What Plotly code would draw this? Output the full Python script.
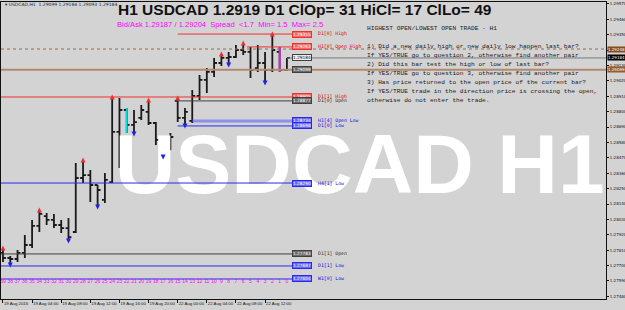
import plotly.graph_objects as go

# ---------------- data ----------------
bar_open = [1.27790, 1.27754, 1.27747, 1.27790, 1.27847, 1.27983, 1.28054, 1.28026, 1.27990, 1.27968,
            1.27940, 1.28326, 1.28347, 1.28276, 1.28169, 1.28297, 1.28655, 1.28812, 1.28705, 1.28755,
            1.28798, 1.28719, 1.28598, 1.28526, 1.28877, 1.28755, 1.28734, 1.28912, 1.29027, 1.29084,
            1.29148, 1.29184, 1.29191, 1.29241, 1.29227, 1.29112, 1.29148, 1.29098, 1.29227, 1.29099]
bar_high = [1.27825, 1.27768, 1.27811, 1.27918, 1.28026, 1.28097, 1.28076, 1.28069, 1.28026, 1.28040,
            1.28433, 1.28455, 1.28383, 1.28276, 1.28362, 1.28905, 1.28898, 1.28826, 1.28812, 1.28848,
            1.28884, 1.28726, 1.28598, 1.28648, 1.28898, 1.28826, 1.28955, 1.29062, 1.29112, 1.29184,
            1.29213, 1.29227, 1.29277, 1.29291, 1.29263, 1.29277, 1.29227, 1.29355, 1.29263, 1.29184]
bar_low = [1.27725, 1.27704, 1.27725, 1.27754, 1.27825, 1.27940, 1.27990, 1.27968, 1.27933, 1.27876,
           1.27933, 1.28290, 1.28154, 1.28119, 1.28147, 1.28290, 1.28397, 1.28648, 1.28641, 1.28741,
           1.28705, 1.28562, 1.28476, 1.28526, 1.28726, 1.28698, 1.28719, 1.28884, 1.28934, 1.29048,
           1.29127, 1.29134, 1.29184, 1.29205, 1.29041, 1.29084, 1.29005, 1.29084, 1.29084, 1.29093]
bar_close = [1.27754, 1.27747, 1.27790, 1.27847, 1.27983, 1.28069, 1.28026, 1.27990, 1.27968, 1.27904,
             1.28326, 1.28347, 1.28276, 1.28240, 1.28312, 1.28655, 1.28812, 1.28705, 1.28726, 1.28812,
             1.28719, 1.28598, 1.28526, 1.28619, 1.28755, 1.28798, 1.28912, 1.29027, 1.29084, 1.29148,
             1.29184, 1.29191, 1.29241, 1.29227, 1.29098, 1.29148, 1.29098, 1.29241, 1.29098, 1.29184]

time_labels = ["19 Aug 2016", "19 Aug 04:00", "19 Aug 08:00", "19 Aug 12:00", "19 Aug 16:00",
               "19 Aug 20:00", "22 Aug 00:00", "22 Aug 04:00", "22 Aug 08:00", "22 Aug 12:00"]
time_label_bars = [0, 4, 8, 12, 16, 20, 24, 28, 32, 36]

fractal_high_bars = [0, 5, 11, 15, 20, 24, 30, 33, 37]
fractal_low_bars = [1, 9, 13, 18, 22, 25, 31, 36]
cyan_bar = 17
pink_bar = 38

level_names = ["D1[0] High", "H1[0] Open High", "D1[1] High", "D1[0] Open", "H1[4] Open Low",
               "D1[0] Low", "H4[1] Low", "D1[1] Open", "D1[1] Low", "W1[0] Low"]
level_values = [1.29355, 1.29263, 1.28905, 1.28877, 1.28734, 1.28698, 1.28290, 1.27783, 1.27697, 1.27604]
level_start_bar = [24, 33.5, -0.3, 24, 26, 24, -0.3, -0.3, -0.3, -0.3]
level_kind = ["high", "high", "high", "open", "low", "low", "low", "open", "low", "low"]

ask_line = 1.29248
bid, ask = 1.29187, 1.29204
spread_now, spread_min, spread_max = 1.7, 1.5, 2.5
price_d1 = 1.2919
cl_op, hi_cl, cl_lo = 31, 17, 49

ytick_vals = [1.27480 + 0.0011 * i for i in range(20)]

questions = [
    "HIGHEST OPEN/LOWEST OPEN TRADE - H1",
    "",
    "1) Did a new daily high or new daily low happen last bar?",
    "If YES/TRUE go to question 2, otherwise find another pair",
    "2) Did this bar test the high or low of last bar?",
    "If YES/TRUE go to question 3, otherwise find another pair",
    "3) Has price returned to the open price of the current bar?",
    "If YES/TRUE trade in the direction price is crossing the open,",
    "otherwise do not enter the trade.",
]

# ---------------- geometry helpers ----------------
W, H = 625, 310
ML, MR, MT, MB = 1, 19, 2, 11
X_MIN, X_MAX = -0.27, 82.83
Y_MIN, Y_MAX = 1.27461, 1.29584
px_per_price = (H - MT - MB) / (Y_MAX - Y_MIN)


def py(ypx):
    return (H - MB - ypx) / (H - MT - MB)


def px(xpx):
    return (xpx - ML) / (W - ML - MR)


n = len(bar_open)
idx = list(range(n))
BG = "#D3D3D3"
kind_style = {
    "high": dict(line="#F03030", box="#F06A6A", boxtxt="white", txt="#E00000"),
    "open": dict(line="#404040", box="#6A6A6A", boxtxt="white", txt="#303030"),
    "low": dict(line="#2828F0", box="#6A6AF0", boxtxt="white", txt="#1010E0"),
}

fig = go.Figure()

# watermark (drawn first so everything else is on top of it)
fig.add_trace(go.Scatter(
    x=[49.0], y=[1.28369], mode="text", text=["<b>USDCAD H1</b>"],
    textfont=dict(family="Liberation Sans, Arial", size=84, color="white"),
    textposition="middle center", hoverinfo="skip", showlegend=False))

# full-width price lines
fig.add_trace(go.Scatter(x=[X_MIN, X_MAX], y=[bar_open[-1]] * 2, mode="lines",
                         line=dict(color="#B08A6A", width=2), hoverinfo="skip", showlegend=False))
fig.add_trace(go.Scatter(x=[X_MIN, X_MAX], y=[ask_line] * 2, mode="lines",
                         line=dict(color="#9A6A4A", width=1, dash="dot"), hoverinfo="skip", showlegend=False))
fig.add_trace(go.Scatter(x=[n - 1, X_MAX], y=[bar_close[-1]] * 2, mode="lines",
                         line=dict(color="#7A7A7A", width=1), hoverinfo="skip", showlegend=False))

# level lines
BOX_X = 41.1
for name, v, s, k in zip(level_names, level_values, level_start_bar, level_kind):
    st = kind_style[k]
    wdt = 3 if name == "H1[4] Open Low" else 1
    col = "rgba(90,90,255,0.55)" if name == "H1[4] Open Low" else st["line"]
    fig.add_trace(go.Scatter(x=[max(s, X_MIN), 39.7], y=[v, v], mode="lines",
                             line=dict(color=col, width=wdt), hoverinfo="skip", showlegend=False))

# bars
fig.add_trace(go.Ohlc(x=idx, open=bar_open, high=bar_high, low=bar_low, close=bar_close,
                      increasing=dict(line=dict(color="#1A1A1A", width=1.8)),
                      decreasing=dict(line=dict(color="#1A1A1A", width=1.8)),
                      tickwidth=0.4, showlegend=False, hoverinfo="skip"))
for b, c in [(cyan_bar, "#00E0E0"), (pink_bar, "#FF00FF")]:
    fig.add_trace(go.Ohlc(x=[b], open=[bar_open[b]], high=[bar_high[b]], low=[bar_low[b]], close=[bar_close[b]],
                          increasing=dict(line=dict(color=c, width=1.6)),
                          decreasing=dict(line=dict(color=c, width=1.6)),
                          tickwidth=0.0, showlegend=False, hoverinfo="skip"))

# fractal arrows
off = 2.5 / px_per_price
fig.add_trace(go.Scatter(x=fractal_high_bars, y=[bar_high[k] + off for k in fractal_high_bars],
                         mode="markers", marker=dict(symbol="arrow-up", size=5, color="#F03030"),
                         hoverinfo="skip", showlegend=False))
fig.add_trace(go.Scatter(x=fractal_low_bars, y=[bar_low[k] - off for k in fractal_low_bars],
                         mode="markers", marker=dict(symbol="arrow-down", size=5, color="#2020F0"),
                         hoverinfo="skip", showlegend=False))

# bar count numbers
w1_low = level_values[level_names.index("W1[0] Low")]
fig.add_trace(go.Scatter(x=idx, y=[w1_low - 3.0 / px_per_price] * n, mode="text",
                         text=[str(n - 1 - i) for i in idx],
                         textfont=dict(family="Liberation Sans, Arial", size=5, color="#FF00FF"),
                         hoverinfo="skip", showlegend=False))

ann = []
# level boxes + names
for name, v, k in zip(level_names, level_values, level_kind):
    st = kind_style[k]
    ann.append(dict(x=BOX_X, y=v, xref="x", yref="y", text=f"{v:.5f}", showarrow=False,
                    bgcolor=st["box"], bordercolor=st["line"], borderwidth=1, borderpad=0,
                    font=dict(family="DejaVu Sans", size=4.3, color=st["boxtxt"])))
    ann.append(dict(x=43.0, y=v, xref="x", yref="y", text=name, showarrow=False, xanchor="left",
                    font=dict(family="DejaVu Sans Mono", size=4.8, color=st["txt"])))
# current price boxes near bar
ann.append(dict(x=BOX_X, y=bar_close[-1], xref="x", yref="y", text=f"{bar_close[-1]:.5f}", showarrow=False,
                bgcolor="#EEEEEE", bordercolor="#404040", borderwidth=1, borderpad=0,
                font=dict(family="DejaVu Sans", size=4.3, color="#111111")))
ann.append(dict(x=BOX_X, y=bar_open[-1], xref="x", yref="y", text=f"{bar_open[-1]:.5f}", showarrow=False,
                bgcolor="#6A6A6A", bordercolor="#404040", borderwidth=1, borderpad=0,
                font=dict(family="DejaVu Sans", size=4.3, color="white")))
# right axis highlight labels
for v, bg in [(ask_line, "#8B4A1A"), (bar_close[-1], "#000000"), (bar_open[-1], "#9A5A2A")]:
    ann.append(dict(x=1.0, y=v, xref="paper", yref="y", text=f"{v:.5f}", showarrow=False, xanchor="left",
                    xshift=1, bgcolor=bg, borderpad=0, font=dict(family="DejaVu Sans", size=4, color="white")))

# header texts
ann.append(dict(x=px(3), y=py(5), xref="paper", yref="paper", xanchor="left", yanchor="middle", showarrow=False,
                text=f"▾ USDCAD,H1  {bar_open[-1]:.5f} {bar_high[-1]:.5f} {bar_low[-1]:.5f} {bar_close[-1]:.5f}",
                font=dict(family="DejaVu Sans", size=4.5, color="#222222")))
ann.append(dict(x=px(116), y=py(10), xref="paper", yref="paper", xanchor="left", yanchor="middle", showarrow=False,
                text=f"<b>H1 USDCAD {price_d1:.4f} D1 ClOp= {cl_op} HiCl= {hi_cl} ClLo= {cl_lo}</b>",
                font=dict(family="Liberation Sans, Arial", size=15.5, color="#111111")))
ann.append(dict(x=px(115), y=py(24), xref="paper", yref="paper", xanchor="left", yanchor="middle", showarrow=False,
                text=f"Bid/Ask {bid:.5f} / {ask:.5f}  Spread  <{spread_now}  Min= {spread_min}  Max= {spread_max}",
                font=dict(family="Liberation Sans, Arial", size=7.6, color="#FF00FF")))
# question panel
for i, line in enumerate(questions):
    if not line:
        continue
    ann.append(dict(x=px(365), y=py(28 + 9.1 * i), xref="paper", yref="paper", xanchor="left", yanchor="middle",
                    showarrow=False, text=line,
                    font=dict(family="Liberation Mono, DejaVu Sans Mono", size=6.2, color="#202020")))

fig.update_layout(
    width=W, height=H, margin=dict(l=ML, r=MR, t=MT, b=MB, autoexpand=False),
    paper_bgcolor=BG, plot_bgcolor=BG, showlegend=False,
    annotations=ann,
    xaxis=dict(range=[X_MIN, X_MAX], showgrid=False, zeroline=False, showline=True, mirror=True,
               linecolor="#111111", linewidth=1, tickvals=time_label_bars, ticktext=time_labels,
               ticks="outside", ticklen=3, tickcolor="#111111", ticklabelposition="outside right",
               tickangle=0, automargin=False,
               tickfont=dict(family="Liberation Sans, Arial", size=4.3, color="#111111"),
               rangeslider=dict(visible=False), fixedrange=True),
    yaxis=dict(range=[Y_MIN, Y_MAX], side="right", showgrid=False, zeroline=False, showline=True, mirror=True,
               linecolor="#111111", linewidth=1, tickvals=ytick_vals, ticktext=[f"{v:.5f}" for v in ytick_vals],
               ticks="outside", ticklen=2, tickcolor="#111111", automargin=False,
               tickfont=dict(family="DejaVu Sans", size=4, color="#111111"), fixedrange=True),
)

fig.write_html("out.html")
